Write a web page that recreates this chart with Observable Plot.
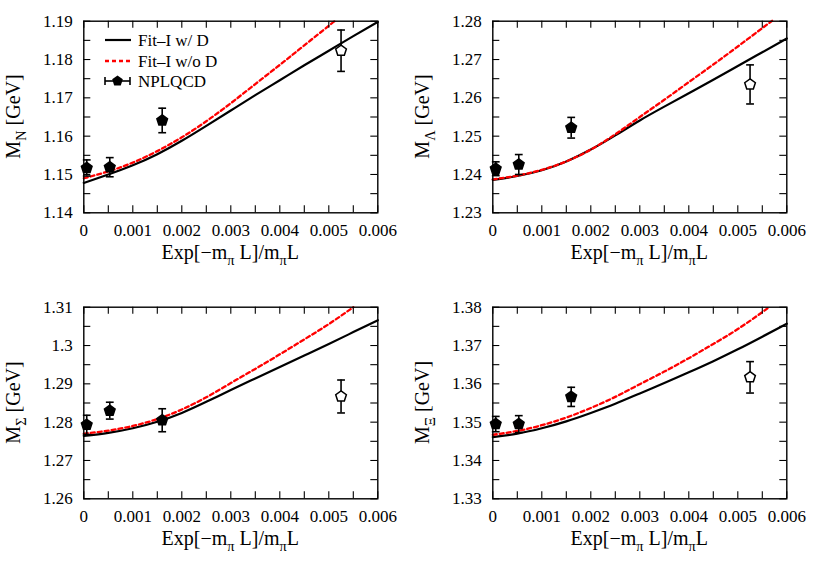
<!DOCTYPE html>
<html><head><meta charset="utf-8">
<script src="https://cdn.jsdelivr.net/npm/d3@7"></script>
<script src="https://cdn.jsdelivr.net/npm/@observablehq/plot@0.6"></script>
<style>
body{margin:0;background:#fff;}
#wrap{position:relative;width:817px;height:572px;background:#fff;}
.panel{position:absolute;width:408px;height:280px;}
</style></head><body><div id="wrap"></div>
<script>
// ---- data ----
const seriesNames = ["Fit\u2013I w/ D", "Fit\u2013I w/o D", "NPLQCD"];
const baryons = ["N", "\u039B", "\u03A3", "\u039E"];
const yDomains = [[1.14, 1.19], [1.23, 1.28], [1.26, 1.31], [1.33, 1.38]];

const xFit = [0, 0.0005, 0.001, 0.0015, 0.002, 0.0025, 0.003, 0.0035, 0.004, 0.0045, 0.005, 0.0055, 0.006];
const fitN_withD   = [1.1478, 1.1500, 1.1524, 1.1553, 1.1588, 1.1627, 1.1667, 1.1707, 1.1746, 1.1785, 1.1823, 1.1861, 1.1898];
const fitL_withD   = [1.2386, 1.2396, 1.2411, 1.2434, 1.2465, 1.2502, 1.2541, 1.2577, 1.2612, 1.2647, 1.2683, 1.2719, 1.2755];
const fitS_withD   = [1.2764, 1.2772, 1.2784, 1.2801, 1.2824, 1.2853, 1.2884, 1.2914, 1.2944, 1.2974, 1.3004, 1.3035, 1.3066];
const fitX_withD   = [1.3461, 1.3470, 1.3484, 1.3502, 1.3524, 1.3548, 1.3575, 1.3602, 1.3630, 1.3659, 1.3690, 1.3723, 1.3757];

const xN_woD = [0, 0.0005, 0.001, 0.0015, 0.002, 0.0025, 0.003, 0.0035, 0.004, 0.0045, 0.005, 0.00512];
const fitN_woD = [1.1490, 1.1508, 1.1531, 1.1561, 1.1597, 1.1639, 1.1686, 1.1736, 1.1786, 1.1837, 1.1888, 1.1900];
const xL_woD = [0, 0.0005, 0.001, 0.0015, 0.002, 0.0025, 0.003, 0.0035, 0.004, 0.0045, 0.005, 0.0055, 0.0057];
const fitL_woD = [1.2387, 1.2397, 1.2412, 1.2434, 1.2465, 1.2505, 1.2550, 1.2595, 1.2641, 1.2687, 1.2734, 1.2782, 1.2801];
const xS_woD = [0, 0.0005, 0.001, 0.0015, 0.002, 0.0025, 0.003, 0.0035, 0.004, 0.0045, 0.005, 0.0055];
const fitS_woD = [1.2770, 1.2778, 1.2790, 1.2808, 1.2833, 1.2865, 1.2902, 1.2939, 1.2977, 1.3016, 1.3056, 1.3100];
const xX_woD = [0, 0.0005, 0.001, 0.0015, 0.002, 0.0025, 0.003, 0.0035, 0.004, 0.0045, 0.005, 0.0055, 0.00563];
const fitX_woD = [1.3467, 1.3477, 1.3492, 1.3512, 1.3537, 1.3566, 1.3599, 1.3632, 1.3667, 1.3704, 1.3743, 1.3787, 1.3800];

const xLat = [0.00006, 0.00053, 0.0016, 0.00525];
const openPoint = [false, false, false, true];
const latN = [1.1517, 1.1519, 1.1641, 1.1823], errN = [0.0021, 0.0025, 0.0032, 0.0054];
const latL = [1.2415, 1.2426, 1.2522, 1.2635], errL = [0.0018, 0.0026, 0.0027, 0.0051];
const latS = [1.2793, 1.2830, 1.2805, 1.2867], errS = [0.0025, 0.0022, 0.0030, 0.0043];
const latX = [1.3495, 1.3495, 1.3566, 1.3617], errX = [0.0020, 0.0022, 0.0025, 0.0041];

const xLabelTicks = [0, 0.001, 0.002, 0.003, 0.004, 0.005, 0.006];
const xMinorTicks = [0, 0.0005, 0.001, 0.0015, 0.002, 0.0025, 0.003, 0.0035, 0.004, 0.0045, 0.005, 0.0055, 0.006];

// ---- layout ----
const FONT = "'Liberation Serif', 'DejaVu Serif', serif";
const W = 408, H = 280, mL = 83.3, mR = 30.7, mT = 20.7, mB = 67.7;
const pw = W - mL - mR, ph = H - mT - mB;
const TICK = 7;
const DASH = "4,3";
const positions = [[0, 0], [409, 0], [0, 286], [409, 286]];

const pentagon = {
  draw(ctx, size) {
    const r = Math.sqrt(size / Math.PI);
    for (let k = 0; k < 5; k++) {
      const a = -Math.PI / 2 + k * 2 * Math.PI / 5;
      const x = r * Math.cos(a), y = r * Math.sin(a);
      if (k === 0) ctx.moveTo(x, y); else ctx.lineTo(x, y);
    }
    ctx.closePath();
  }
};
const capSym = { draw(ctx) { ctx.moveTo(-3.9, 0); ctx.lineTo(3.9, 0); } };

const withD = [fitN_withD, fitL_withD, fitS_withD, fitX_withD];
const woDx = [xN_woD, xL_woD, xS_woD, xX_woD];
const woD = [fitN_woD, fitL_woD, fitS_woD, fitX_woD];
const lat = [latN, latL, latS, latX];
const errs = [errN, errL, errS, errX];

function addText(svg, x, y, parts, size, rotate) {
  const t = svg.append("text")
    .style("font-family", FONT).attr("font-size", size).attr("fill", "black")
    .attr("text-anchor", "middle");
  if (rotate) t.attr("transform", `translate(${x},${y}) rotate(-90)`);
  else t.attr("x", x).attr("y", y);
  let shifted = false;
  for (const [s, sub] of parts) {
    const sp = t.append("tspan").text(s);
    if (sub && !shifted) { sp.attr("dy", size * 0.28).attr("font-size", size * 0.72); shifted = true; }
    else if (!sub && shifted) { sp.attr("dy", -size * 0.28); shifted = false; }
  }
}

const wrap = d3.select("#wrap");
for (let i = 0; i < 4; i++) {
  const [yMin, yMax] = yDomains[i];
  const yTicksMinor = d3.range(0, 11).map(k => +(yMin + k * 0.005).toFixed(4));
  const yLabelTicks = d3.range(0, 6).map(k => +(yMin + k * 0.01).toFixed(2));
  const fitA = xFit.map((x, j) => ({x, y: withD[i][j]}));
  const fitB = woDx[i].map((x, j) => ({x, y: woD[i][j]}));
  const pts = xLat.map((x, j) => ({x, y: lat[i][j], lo: lat[i][j] - errs[i][j], hi: lat[i][j] + errs[i][j], open: openPoint[j]}));

  const chart = Plot.plot({
    width: W, height: H,
    marginLeft: mL, marginRight: mR, marginTop: mT, marginBottom: mB,
    style: {fontFamily: FONT, fontSize: "17px", color: "black", background: "white", overflow: "visible"},
    x: {domain: [0, 0.006]},
    y: {domain: [yMin, yMax]},
    marks: [
      Plot.line(fitA, {x: "x", y: "y", stroke: "black", strokeWidth: 2.2, curve: "natural"}),
      Plot.line(fitB, {x: "x", y: "y", stroke: "#f00", strokeWidth: 2.3, strokeDasharray: DASH, curve: "natural"}),
      Plot.ruleX(pts, {x: "x", y1: "lo", y2: "hi", stroke: "black", strokeWidth: 1.6}),
      Plot.dot(pts, {x: "x", y: "lo", symbol: capSym, stroke: "black", strokeWidth: 1.6, fill: "none"}),
      Plot.dot(pts, {x: "x", y: "hi", symbol: capSym, stroke: "black", strokeWidth: 1.6, fill: "none"}),
      Plot.dot(pts, {x: "x", y: "y", symbol: pentagon, r: 5.6, stroke: "black", strokeWidth: 1.5, fill: d => d.open ? "white" : "black"}),
      Plot.tickX(xMinorTicks, {x: d => d, insetTop: ph - TICK, stroke: "black", strokeWidth: 1.1}),
      Plot.tickX(xMinorTicks, {x: d => d, insetBottom: ph - TICK, stroke: "black", strokeWidth: 1.1}),
      Plot.tickY(yTicksMinor, {y: d => d, insetRight: pw - TICK, stroke: "black", strokeWidth: 1.1}),
      Plot.tickY(yTicksMinor, {y: d => d, insetLeft: pw - TICK, stroke: "black", strokeWidth: 1.1}),
      Plot.axisX({ticks: xLabelTicks, tickSize: 0, tickPadding: 11, label: null,
        tickFormat: d => d === 0 ? "0" : d.toFixed(3), fontSize: 17}),
      Plot.axisY({ticks: yLabelTicks, tickSize: 0, tickPadding: 11, label: null,
        tickFormat: d => String(+d.toFixed(2)), fontSize: 17}),
      Plot.frame({stroke: "black", strokeWidth: 1.4})
    ]
  });

  const div = wrap.append("div").attr("class", "panel")
    .style("left", positions[i][0] + "px").style("top", positions[i][1] + "px");
  div.node().appendChild(chart);
  const svg = d3.select(chart);
  svg.selectAll("text").style("font-family", FONT).attr("fill", "black");

  addText(svg, mL + pw / 2, 259, [["Exp[\u2212m", 0], ["\u03C0", 1], [" L]/m", 0], ["\u03C0", 1], ["L", 0]], 20, false);
  addText(svg, 20, mT + ph / 2, [["M", 0], [baryons[i], 1], [" [GeV]", 0]], 20, true);

  if (i === 0) {
    const g = svg.append("g");
    const rows = [40, 61, 81];
    g.append("line").attr("x1", 105).attr("x2", 131).attr("y1", rows[0]).attr("y2", rows[0])
      .attr("stroke", "black").attr("stroke-width", 2.2);
    g.append("line").attr("x1", 105).attr("x2", 131).attr("y1", rows[1]).attr("y2", rows[1])
      .attr("stroke", "#f00").attr("stroke-width", 2.3).attr("stroke-dasharray", DASH);
    g.append("line").attr("x1", 105).attr("x2", 130).attr("y1", rows[2]).attr("y2", rows[2])
      .attr("stroke", "black").attr("stroke-width", 1.6);
    for (const xx of [105, 130]) g.append("line").attr("x1", xx).attr("x2", xx).attr("y1", rows[2] - 4).attr("y2", rows[2] + 4)
      .attr("stroke", "black").attr("stroke-width", 1.6);
    const pent = d3.path(); pentagon.draw(pent, 5.6 * 5.6 * Math.PI);
    g.append("path").attr("d", pent.toString()).attr("transform", `translate(117.5,${rows[2]})`).attr("fill", "black");
    seriesNames.forEach((s, k) => g.append("text").attr("x", 138).attr("y", rows[k] + 5.5)
      .attr("text-anchor", "start").style("font-family", FONT).attr("font-size", 17).attr("fill", "black").text(s));
  }
}
</script></body></html>
